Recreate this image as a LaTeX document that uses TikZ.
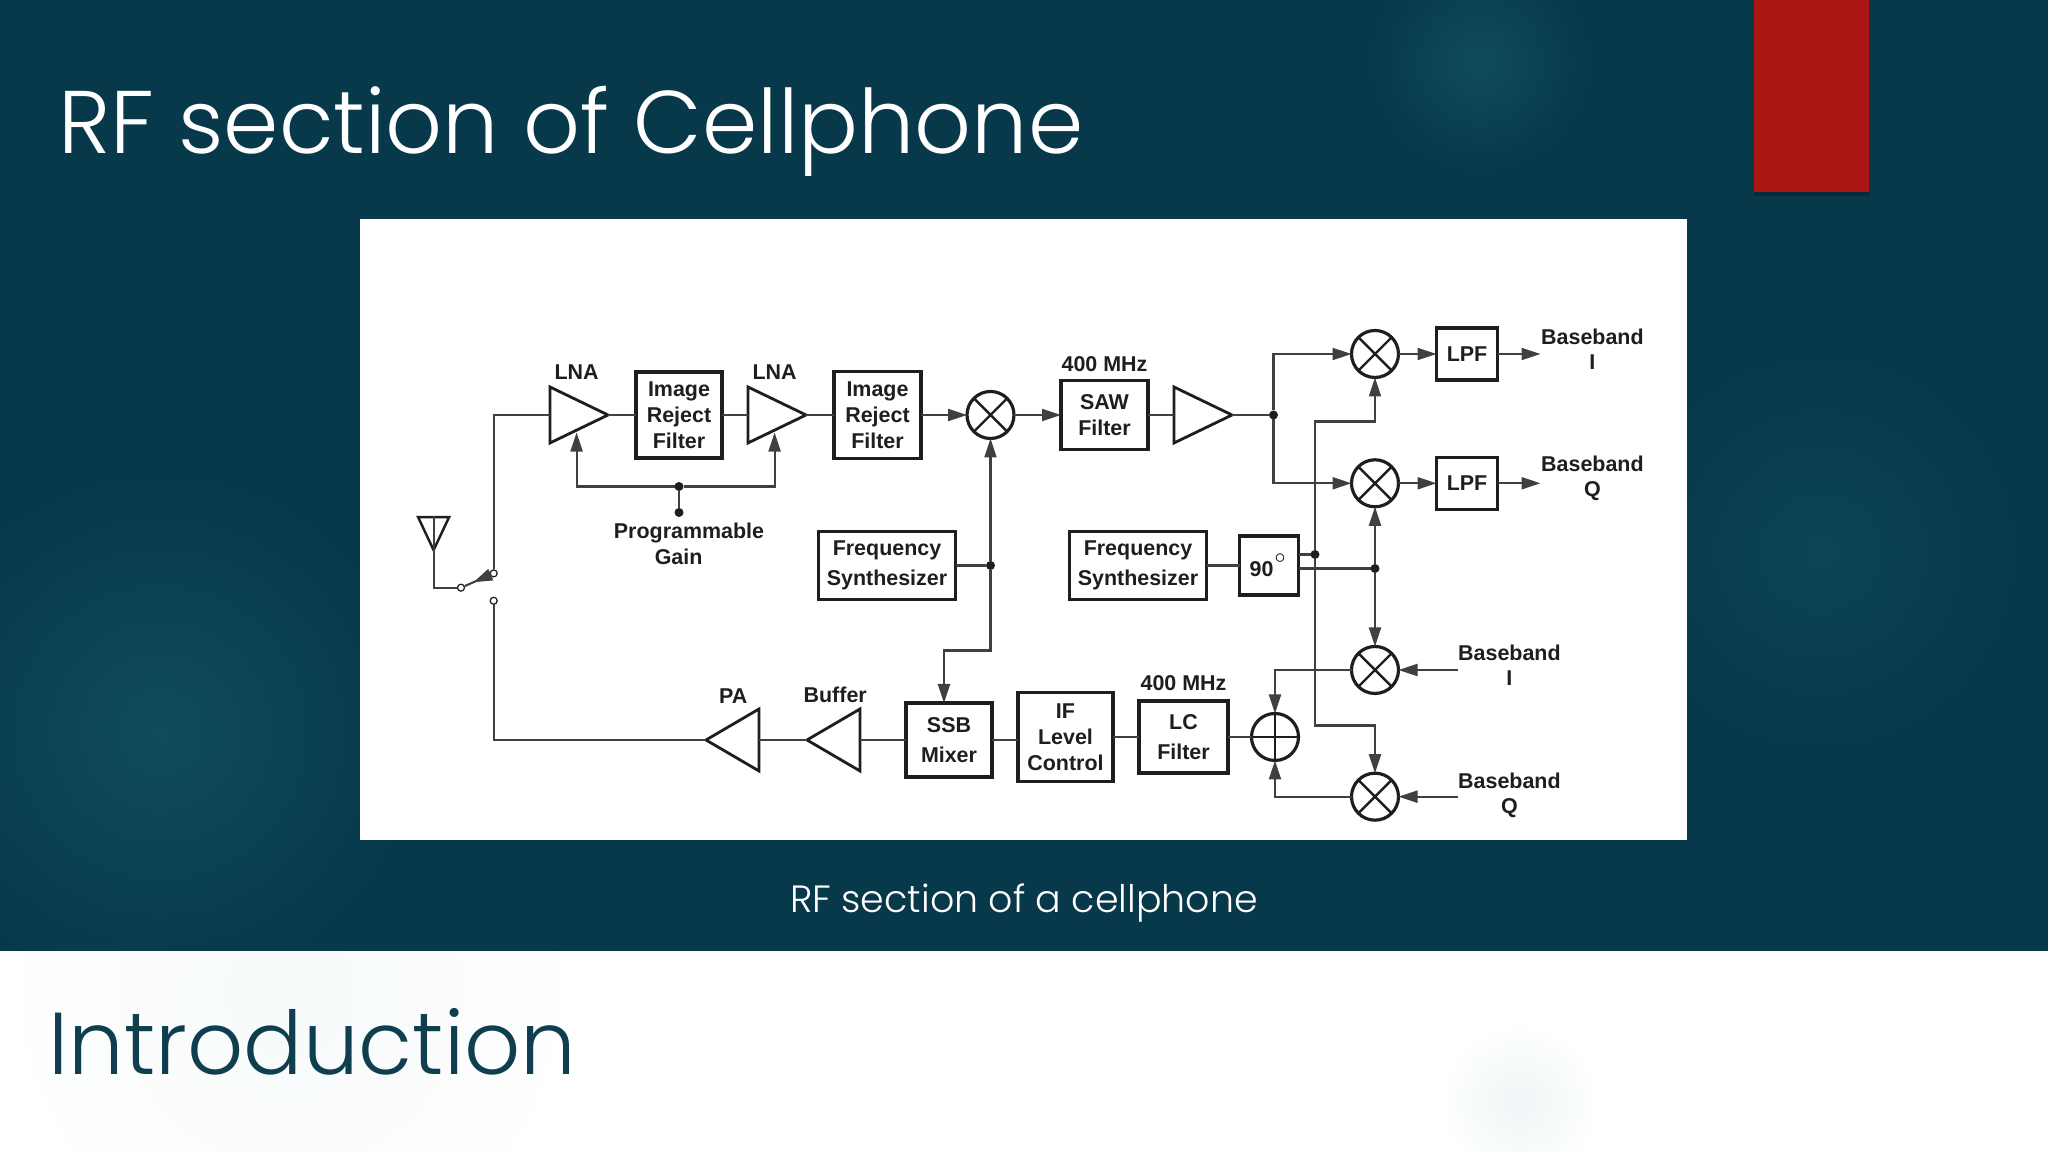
\documentclass[tikz,border=0pt]{standalone}
\usepackage{fontspec}
\setmainfont{Poppins Light}
\setsansfont{Liberation Sans}
\usepackage{tikz}
\usetikzlibrary{positioning,arrows.meta,calc,shapes.geometric}
\definecolor{slidecolor}{HTML}{07394A}
\definecolor{glowcolor}{HTML}{115060}
\definecolor{paleglow}{HTML}{EAF3F4}
\definecolor{redcolor}{HTML}{AB1614}
\definecolor{inkcolor}{HTML}{1E1E1E}
\definecolor{introcolor}{HTML}{0F3F4F}

\begin{document}
\begin{tikzpicture}[
  >={Triangle[length=1.9mm,width=1.2mm]},
  block/.style={rectangle, draw=inkcolor, line width=0.9pt, inner sep=0pt, outer sep=0pt, align=center, text=inkcolor, font=\sffamily\bfseries\fontsize{6.1}{7.4}\selectfont},
  amp/.style={isosceles triangle, isosceles triangle stretches, draw=inkcolor, line width=0.8pt, inner sep=0pt, outer sep=0pt, minimum width=0.56cm, minimum height=0.58cm},
  ampback/.style={amp, shape border rotate=180, minimum width=0.62cm, minimum height=0.53cm},
  mixer/.style={circle, draw=inkcolor, line width=0.9pt, inner sep=0pt, outer sep=0pt, minimum size=0.47cm,
    path picture={\draw[inkcolor, line width=0.7pt] (path picture bounding box.north west) -- (path picture bounding box.south east) (path picture bounding box.south west) -- (path picture bounding box.north east);}},
  summer/.style={circle, draw=inkcolor, line width=0.9pt, inner sep=0pt, outer sep=0pt, minimum size=0.47cm,
    path picture={\draw[inkcolor, line width=0.7pt] (path picture bounding box.north) -- (path picture bounding box.south) (path picture bounding box.west) -- (path picture bounding box.east);}},
  dot/.style={circle, fill=inkcolor, inner sep=0pt, outer sep=0pt, minimum size=0.09cm},
  contact/.style={circle, draw=inkcolor, fill=white, line width=0.35pt, inner sep=0pt, minimum size=0.07cm},
  lbl/.style={inner sep=0pt, align=center, text=inkcolor, font=\sffamily\bfseries\fontsize{6.1}{7.2}\selectfont},
  wire/.style={draw=inkcolor!85, line width=0.6pt},
  arr/.style={->, draw=inkcolor!85, line width=0.6pt},
]
\useasboundingbox (0,0) rectangle (20.48,11.52);

% === Slide background ===
\fill[white] (0,0) rectangle (20.48,2.01);
\begin{scope}
\clip (0,0) rectangle (20.48,2.01);
\shade[inner color=paleglow!80!white, outer color=white] (15.2,0.5) circle (0.8);
\shade[inner color=paleglow!40!white, outer color=white] (2.9,1.6) circle (3.0);
\end{scope}
\fill[slidecolor] (0,2.01) rectangle (20.48,11.52);
\begin{scope}
\clip (0,2.01) rectangle (20.48,11.52);
\shade[inner color=glowcolor!80!slidecolor, outer color=slidecolor] (14.8,10.9) circle (1.1);
\shade[inner color=glowcolor!80!slidecolor, outer color=slidecolor] (1.6,4.2) circle (2.6);
\shade[inner color=glowcolor!50!slidecolor, outer color=slidecolor] (18.2,6.0) circle (2.0);
\end{scope}

\fill[black, opacity=0.2] (17.54,9.56) rectangle (18.69,11.52);
\fill[redcolor] (17.54,9.60) rectangle (18.69,11.52);
\node[anchor=base west, inner sep=0pt, text=white, font=\fontsize{25.3}{30}\selectfont] (title) at (0.575,9.98) {RF section of Cellphone};
\fill[white] (3.60,3.12) rectangle (16.87,9.33);
\node[anchor=base, inner sep=0pt, text=white, font=\fontsize{10.8}{13}\selectfont] (caption) at (10.24,2.39) {RF section of a cellphone};
\node[anchor=base west, inner sep=0pt, text=introcolor, font=\fontsize{25}{30}\selectfont] (intro) at (0.48,0.77) {Introduction};

% === Receive path ===
\node[amp, anchor=west] (lna1) at (5.50,7.37) {};
\node[block, right=0.28cm of lna1, minimum width=0.86cm, minimum height=0.86cm] (irf1) {Image\\Reject\\Filter};
\node[amp, right=0.26cm of irf1] (lna2) {};
\node[block, right=0.28cm of lna2, minimum width=0.87cm, minimum height=0.87cm] (irf2) {Image\\Reject\\Filter};
\node[mixer, right=0.46cm of irf2] (mix1) {};
\node[block, right=0.47cm of mix1, minimum width=0.87cm, minimum height=0.69cm] (saw) {SAW\\Filter};
\node[amp, right=0.26cm of saw] (amp3) {};
\node[dot, right=0.37cm of amp3] (jif) {};

\node[lbl, above=0.15cm of lna1, xshift=0.09cm] (lna1lbl) {LNA};
\node[lbl, above=0.15cm of lna2, xshift=0.09cm] (lna2lbl) {LNA};
\node[lbl, above=0.08cm of saw] (sawlbl) {400 MHz};

% === I/Q mixers and outputs ===
\node[mixer] (mixi) at (13.75,7.98) {};
\node[mixer, below=0.823cm of mixi] (mixq) {};
\node[block, right=0.38cm of mixi, minimum width=0.61cm, minimum height=0.52cm] (lpfi) {LPF};
\node[block, right=0.38cm of mixq, minimum width=0.61cm, minimum height=0.52cm] (lpfq) {LPF};
\node[lbl, right=0.43cm of lpfi, yshift=0.05cm] (bbi) {Baseband\\I};
\node[lbl, right=0.43cm of lpfq, yshift=0.05cm] (bbq) {Baseband\\Q};

% === Local oscillators ===
\node[block, minimum width=1.37cm, minimum height=0.68cm] (syn2) at (11.38,5.865) {Frequency\\[1pt]Synthesizer};
\node[block, right=0.33cm of syn2, minimum width=0.59cm, minimum height=0.59cm] (deg90) {90\raisebox{1.5pt}{$^{\circ}$}};
\node[block, left=1.14cm of syn2, minimum width=1.37cm, minimum height=0.68cm] (syn1) {Frequency\\[1pt]Synthesizer};
\node[dot] (jlo) at (mix1 |- syn1) {};
\node[dot, right=0.12cm of deg90, yshift=0.11cm] (jli) {};
\node[dot] (jlq) at ([yshift=-0.03cm]deg90.east -| mixq) {};

% === Transmit path ===
\node[mixer, below=1.397cm of mixq] (mixti) {};
\node[mixer, below=0.797cm of mixti] (mixtq) {};
\node[lbl, right=0.59cm of mixti, yshift=0.05cm] (bbti) {Baseband\\I};
\node[lbl, right=0.59cm of mixtq, yshift=0.01cm] (bbtq) {Baseband\\Q};
\node[summer] (adder) at (12.75,4.15) {};
\node[block, left=0.235cm of adder, minimum width=0.89cm, minimum height=0.72cm] (lcf) {LC\\[1pt]Filter};
\node[block, left=0.26cm of lcf, minimum width=0.95cm, minimum height=0.89cm] (ifl) {IF\\Level\\Control};
\node[block, left=0.26cm of ifl, yshift=-0.03cm, minimum width=0.86cm, minimum height=0.74cm] (ssb) {SSB\\[1pt]Mixer};
\node[ampback, left=0.46cm of ssb] (buf) {};
\node[ampback, left=0.48cm of buf] (pa) {};

\node[lbl, above=0.10cm of lcf] (lcflbl) {400 MHz};
\node[lbl, above=0.16cm of buf, xshift=-0.07cm] (buflbl) {Buffer};
\node[lbl, above=0.15cm of pa, xshift=-0.08cm] (palbl) {PA};

% === Programmable gain ===
\node[dot, below=0.24cm of irf1] (jgain) {};
\node[dot, below=0.17cm of jgain] (gainend) {};
\node[lbl, below=0.05cm of gainend, xshift=0.10cm] (gainlbl) {Programmable\\[0.4pt]Gain\hspace*{5.9pt}};

% === Antenna switch ===
\node[isosceles triangle, isosceles triangle stretches, shape border rotate=-90, draw=inkcolor, line width=0.7pt, inner sep=0pt, minimum width=0.31cm, minimum height=0.33cm, anchor=north] (ant) at (4.336,6.361) {};
\node[contact] (swin) at (4.61,5.643) {};
\node[contact] (swa) at (4.937,5.786) {};
\node[contact] (swb) at (4.937,5.512) {};

% === Receive arrows ===
\draw[wire] (lna1) -- (irf1);
\draw[wire] (irf1) -- (lna2);
\draw[wire] (lna2) -- (irf2);
\draw[arr] (irf2) -- (mix1);
\draw[arr] (mix1) -- (saw);
\draw[wire] (saw) -- (amp3);
\draw[wire] (amp3) -- (jif);
\draw[arr] (jif) |- (mixi);
\draw[arr] (jif) |- (mixq);
\draw[arr] (mixi) -- (lpfi);
\draw[arr] (mixq) -- (lpfq);
\draw[arr] (lpfi) -- (bbi.west |- lpfi);
\draw[arr] (lpfq) -- (bbq.west |- lpfq);

% === LO arrows ===
\draw[wire] (syn1) -- (jlo);
\draw[arr] (jlo) -- (mix1);
\draw[arr] (jlo) -- ++(0,-0.85) -| ([xshift=-0.05cm]ssb.north);
\draw[wire] (syn2) -- (deg90);
\draw[wire] (deg90.east |- jli) -- (jli);
\draw[wire] ([yshift=-0.03cm]deg90.east) -- (jlq);
\draw[arr] (jli) -- ++(0,1.33) -| (mixi);
\draw[arr] (jli) -- ++(0,-1.71) -| (mixtq);
\draw[arr] (jlq) -- (mixq);
\draw[arr] (jlq) -- (mixti);

% === Transmit arrows ===
\draw[arr] (bbti.west |- mixti) -- (mixti);
\draw[arr] (bbtq.west |- mixtq) -- (mixtq);
\draw[arr] (mixti) -| (adder);
\draw[arr] (mixtq) -| (adder);
\draw[wire] (adder) -- (lcf);
\draw[wire] (lcf) -- (ifl);
\draw[wire] (ssb.east -| ifl.west) -- (ssb.east);
\draw[wire] (ssb) -- (buf);
\draw[wire] (buf) -- (pa);

% === Gain control arrows ===
\draw[arr] (jgain) -| ([xshift=0.09cm,yshift=0.02cm]lna1.south);
\draw[arr] (jgain) -| ([xshift=0.09cm,yshift=0.02cm]lna2.south);
\draw[wire] (jgain) -- (gainend);

% === Antenna wiring ===
\draw[wire] (ant.north) -- (ant.south);
\draw[wire] (ant.south) |- (swin);
\draw[wire] (swa) -- (swin);
\draw[arr] (swa) -- ($(swa)!0.62!(swin)$);
\draw[wire] (swa) |- (lna1);
\draw[wire] (swb) |- (pa);

\end{tikzpicture}
\end{document}
